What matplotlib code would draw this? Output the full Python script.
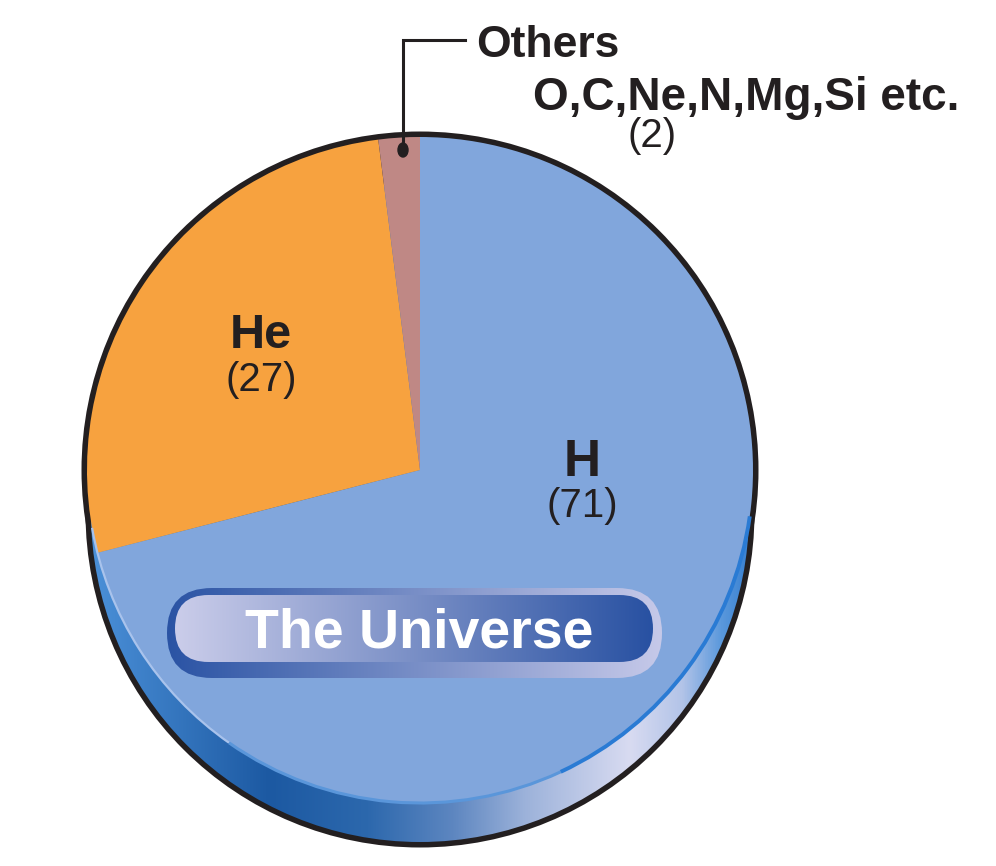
import numpy as np
import matplotlib.pyplot as plt
from matplotlib.patches import Circle, FancyBboxPatch, Arc, Ellipse
from matplotlib.colors import LinearSegmentedColormap

# composition of the universe (%)
elements = ['H', 'He', 'Others']
shares = [71, 27, 2]
share_labels = ['(71)', '(27)', '(2)']
slice_colors = ['#81a6dc', '#f7a23f', '#bf8885']
others_note = 'O,C,Ne,N,Mg,Si etc.'
badge_text = 'The Universe'

W, H = 996, 866
fig = plt.figure(figsize=(W / 100, H / 100), dpi=100)
ax = fig.add_axes([0, 0, 1, 1])

def py(y):
    # pixel row -> data y
    return H - y

cx, cy, r = 420, py(470), 333          # pie face
rx, ry, rr = 420, py(513), 329         # disc rim (lower, thickness)

# black outline under everything
ax.add_patch(Circle((cx, cy), r + 5.5, color='#231f20', lw=0, zorder=1))
ax.add_patch(Circle((rx, ry), rr + 5.5, color='#231f20', lw=0, zorder=1))

# rim with gradient
rim = Circle((rx, ry), rr, color='none', lw=0, zorder=2)
ax.add_patch(rim)
rim_cmap = LinearSegmentedColormap.from_list('rim', [
    (0.00, '#4b90d8'), (0.27, '#1c59a2'), (0.42, '#2c68ad'), (0.55, '#5d86c0'),
    (0.66, '#9cb2da'), (0.82, '#d8dbf1'), (0.90, '#b3c4e8'), (0.96, '#5a98dc'),
    (1.00, '#3a82d2')])
grad = np.linspace(0, 1, 256).reshape(1, -1)
im = ax.imshow(grad, cmap=rim_cmap, extent=(rx - rr, rx + rr, ry - rr, ry + rr),
               aspect='auto', zorder=2)
im.set_clip_path(rim)

# pie face
wedges, _ = ax.pie(shares, colors=slice_colors, startangle=90, counterclock=False,
                   center=(cx, cy), radius=r, wedgeprops=dict(linewidth=0))
for w in wedges:
    w.set_zorder(3)

# edge highlights on the face
ax.add_patch(Arc((cx, cy), 2 * r, 2 * r, theta1=190, theta2=235,
                 color='#a9c3ec', lw=1.6, zorder=4))
ax.add_patch(Arc((cx, cy), 2 * r, 2 * r, theta1=235, theta2=295,
                 color='#5a96da', lw=2.2, zorder=4))
ax.add_patch(Arc((cx, cy), 2 * r, 2 * r, theta1=295, theta2=352,
                 color='#2a7bd4', lw=2.8, zorder=4))

# badge
def gradient_pill(x0, y0, x1, y1, c0, c1, z):
    pad = (y1 - y0) / 2
    p = FancyBboxPatch((x0 + pad, py(y1) + pad), (x1 - x0) - 2 * pad, 0,
                       boxstyle='round,pad=%f' % pad, lw=0, color='none', zorder=z)
    ax.add_patch(p)
    cm = LinearSegmentedColormap.from_list('b', [c0, c1])
    g = ax.imshow(grad, cmap=cm, extent=(x0, x1, py(y1), py(y0)),
                  aspect='auto', zorder=z)
    g.set_clip_path(p)

gradient_pill(167, 588, 662, 678, '#2a53a4', '#c6c9e9', 5)
gradient_pill(175, 595, 653, 662, '#cbcdea', '#2851a2', 6)
ax.text(419, py(647), badge_text, color='white', fontsize=40, fontweight='bold',
        family='Liberation Sans', ha='center', va='baseline', zorder=7)

# labels
lab_pos = {'H': (582, 476, 506, 37), 'He': (261, 348, 380, 35)}
for name, lab in zip(elements[:2], share_labels[:2]):
    x, yb, yp, fs = lab_pos[name]
    ax.text(x, py(yb), name, fontsize=fs, fontweight='bold', color='#231f20',
            family='Liberation Sans', ha='center', va='baseline', zorder=7)
    ax.text(x, py(yp), lab, fontsize=29, color='#231f20',
            family='Liberation Sans', ha='center', va='center', zorder=7)

# others leader
ax.plot([465, 403, 403], [py(40), py(40), py(150)], color='#231f20', lw=2.2,
        solid_joinstyle='miter', zorder=8)
ax.add_patch(Ellipse((403, py(150)), 10, 14, color='#231f20', zorder=8))
ax.text(476, py(57), elements[2], fontsize=32, fontweight='bold', color='#231f20',
        family='Liberation Sans', ha='left', va='baseline', zorder=7)
ax.text(533, py(110), others_note, fontsize=33, fontweight='bold', color='#231f20',
        family='Liberation Sans', ha='left', va='baseline', zorder=7)
ax.text(652, py(136), share_labels[2], fontsize=29, color='#231f20',
        family='Liberation Sans', ha='center', va='center', zorder=7)

ax.set_xlim(0, W)
ax.set_ylim(0, H)
ax.set_aspect('auto')
ax.axis('off')
fig.savefig('out.png', dpi=100, facecolor='white')
